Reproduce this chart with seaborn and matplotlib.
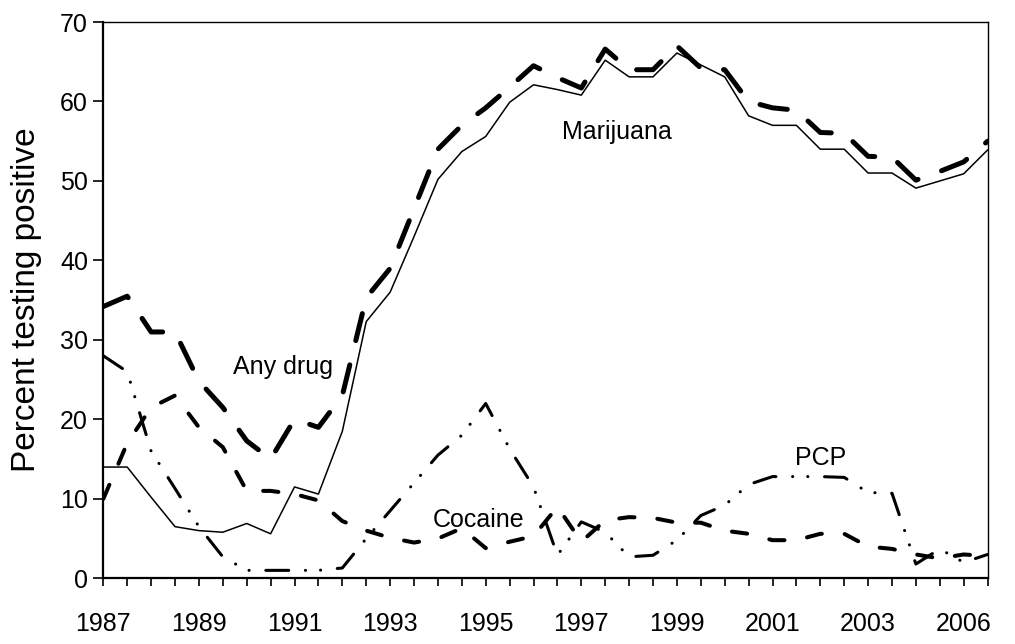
import matplotlib
matplotlib.use("Agg")
import matplotlib.pyplot as plt
import seaborn as sns
import numpy as np
import pandas as pd

# half-year periods, 1987 .. 2006 (38 points)
period = list(range(38))
tick_pos = [0, 4, 8, 12, 16, 20, 24, 28, 32, 36]
tick_labels = ["1987", "1989", "1991", "1993", "1995", "1997", "1999", "2001", "2003", "2006"]

any_drug = [34.2, 35.5, 31.0, 31.0, 24.8, 21.5, 17.3, 15.0, 20.0, 19.0,
            23.0, 35.3, 39.0, 46.5, 54.0, 57.0, 59.2, 61.8, 64.5, 63.0,
            61.7, 66.6, 64.0, 64.0, 67.0, 64.2, 64.0, 60.0, 59.2, 58.9,
            56.1, 56.0, 53.1, 53.0, 50.1, 51.2, 52.4, 55.0]
marijuana = [14.0, 14.0, 10.2, 6.5, 6.0, 5.8, 6.9, 5.6, 11.5, 10.6,
             18.5, 32.3, 36.0, 43.0, 50.2, 53.7, 55.6, 59.9, 62.1, 61.5,
             60.8, 65.2, 63.1, 63.1, 66.1, 64.6, 63.1, 58.2, 57.0, 57.0,
             54.0, 54.0, 51.0, 51.0, 49.1, 50.0, 50.9, 53.9]
cocaine = [10.0, 17.0, 21.5, 23.0, 19.0, 16.5, 11.0, 11.0, 10.6, 9.8,
           7.2, 6.0, 5.1, 4.5, 5.0, 6.3, 3.8, 4.6, 5.3, 9.0,
           4.6, 7.3, 7.7, 7.6, 7.0, 7.0, 6.0, 5.6, 4.8, 4.8,
           5.6, 5.6, 4.0, 3.7, 3.0, 2.5, 3.0, 2.8]
pcp = [28.0, 26.0, 16.0, 11.3, 6.5, 2.7, 1.0, 1.0, 1.0, 1.0,
       1.3, 5.0, 8.5, 12.0, 15.5, 18.0, 22.0, 16.3, 11.5, 2.9,
       7.1, 5.8, 2.7, 2.9, 4.8, 7.9, 9.2, 11.8, 12.8, 12.8,
       12.8, 12.7, 10.8, 10.7, 1.8, 3.7, 2.0, 3.0]

df = pd.DataFrame({"period": period, "Any drug": any_drug, "Marijuana": marijuana,
                   "Cocaine": cocaine, "PCP": pcp})

sns.set_style("ticks")
plt.rcParams["font.family"] = ["Liberation Sans", "DejaVu Sans"]
plt.rcParams["lines.scale_dashes"] = False
for k in ["text.color", "axes.labelcolor", "xtick.color", "ytick.color"]:
    plt.rcParams[k] = "black"
FS = 18

fig, ax = plt.subplots(figsize=(10.15, 6.44), dpi=100)
fig.subplots_adjust(left=0.1018, right=0.973, bottom=0.102, top=0.9658)

# line styles (dash lengths in points)
styles = {
    "Marijuana": dict(lw=1.1, linestyle="-"),
    "Any drug": dict(lw=3.6, linestyle=(0, (20, 18))),
    "Cocaine": dict(lw=2.9, linestyle=(0, (11, 16.5))),
    "PCP": dict(lw=2.2, linestyle=(0, (16.5, 12, 0.1, 10.8, 0.1, 12))),
}
for name, st in styles.items():
    sns.lineplot(data=df, x="period", y=name, ax=ax, color="black",
                 dash_capstyle="round", solid_joinstyle="round", **st)

labels = {"Any drug": (7.5, 26.6), "Marijuana": (21.5, 56.1),
          "Cocaine": (15.7, 7.3), "PCP": (30.0, 15.1)}
for txt, (x, y) in labels.items():
    ax.text(x, y, txt, ha="center", va="center", fontsize=FS)

ax.set_xlim(0, 37)
ax.set_ylim(0, 70)
ax.set_xticks(period)
ax.set_xticklabels([tick_labels[tick_pos.index(p)] if p in tick_pos else "" for p in period],
                   fontsize=FS)
ax.set_yticks(range(0, 71, 10))
ax.tick_params(axis="y", labelsize=FS, length=7, width=1.2, direction="out", pad=4)
ax.tick_params(axis="x", labelsize=FS, length=6, width=1.2, direction="out", pad=18)
ax.set_xlabel("")
ax.set_ylabel("Percent testing positive", fontsize=24, labelpad=13)

for side in ["top", "right"]:
    ax.spines[side].set_visible(True)
    ax.spines[side].set_linewidth(1.0)
for side in ["left", "bottom"]:
    ax.spines[side].set_linewidth(1.6)
for s in ax.spines.values():
    s.set_color("black")

fig.savefig("out.png", dpi=100)
